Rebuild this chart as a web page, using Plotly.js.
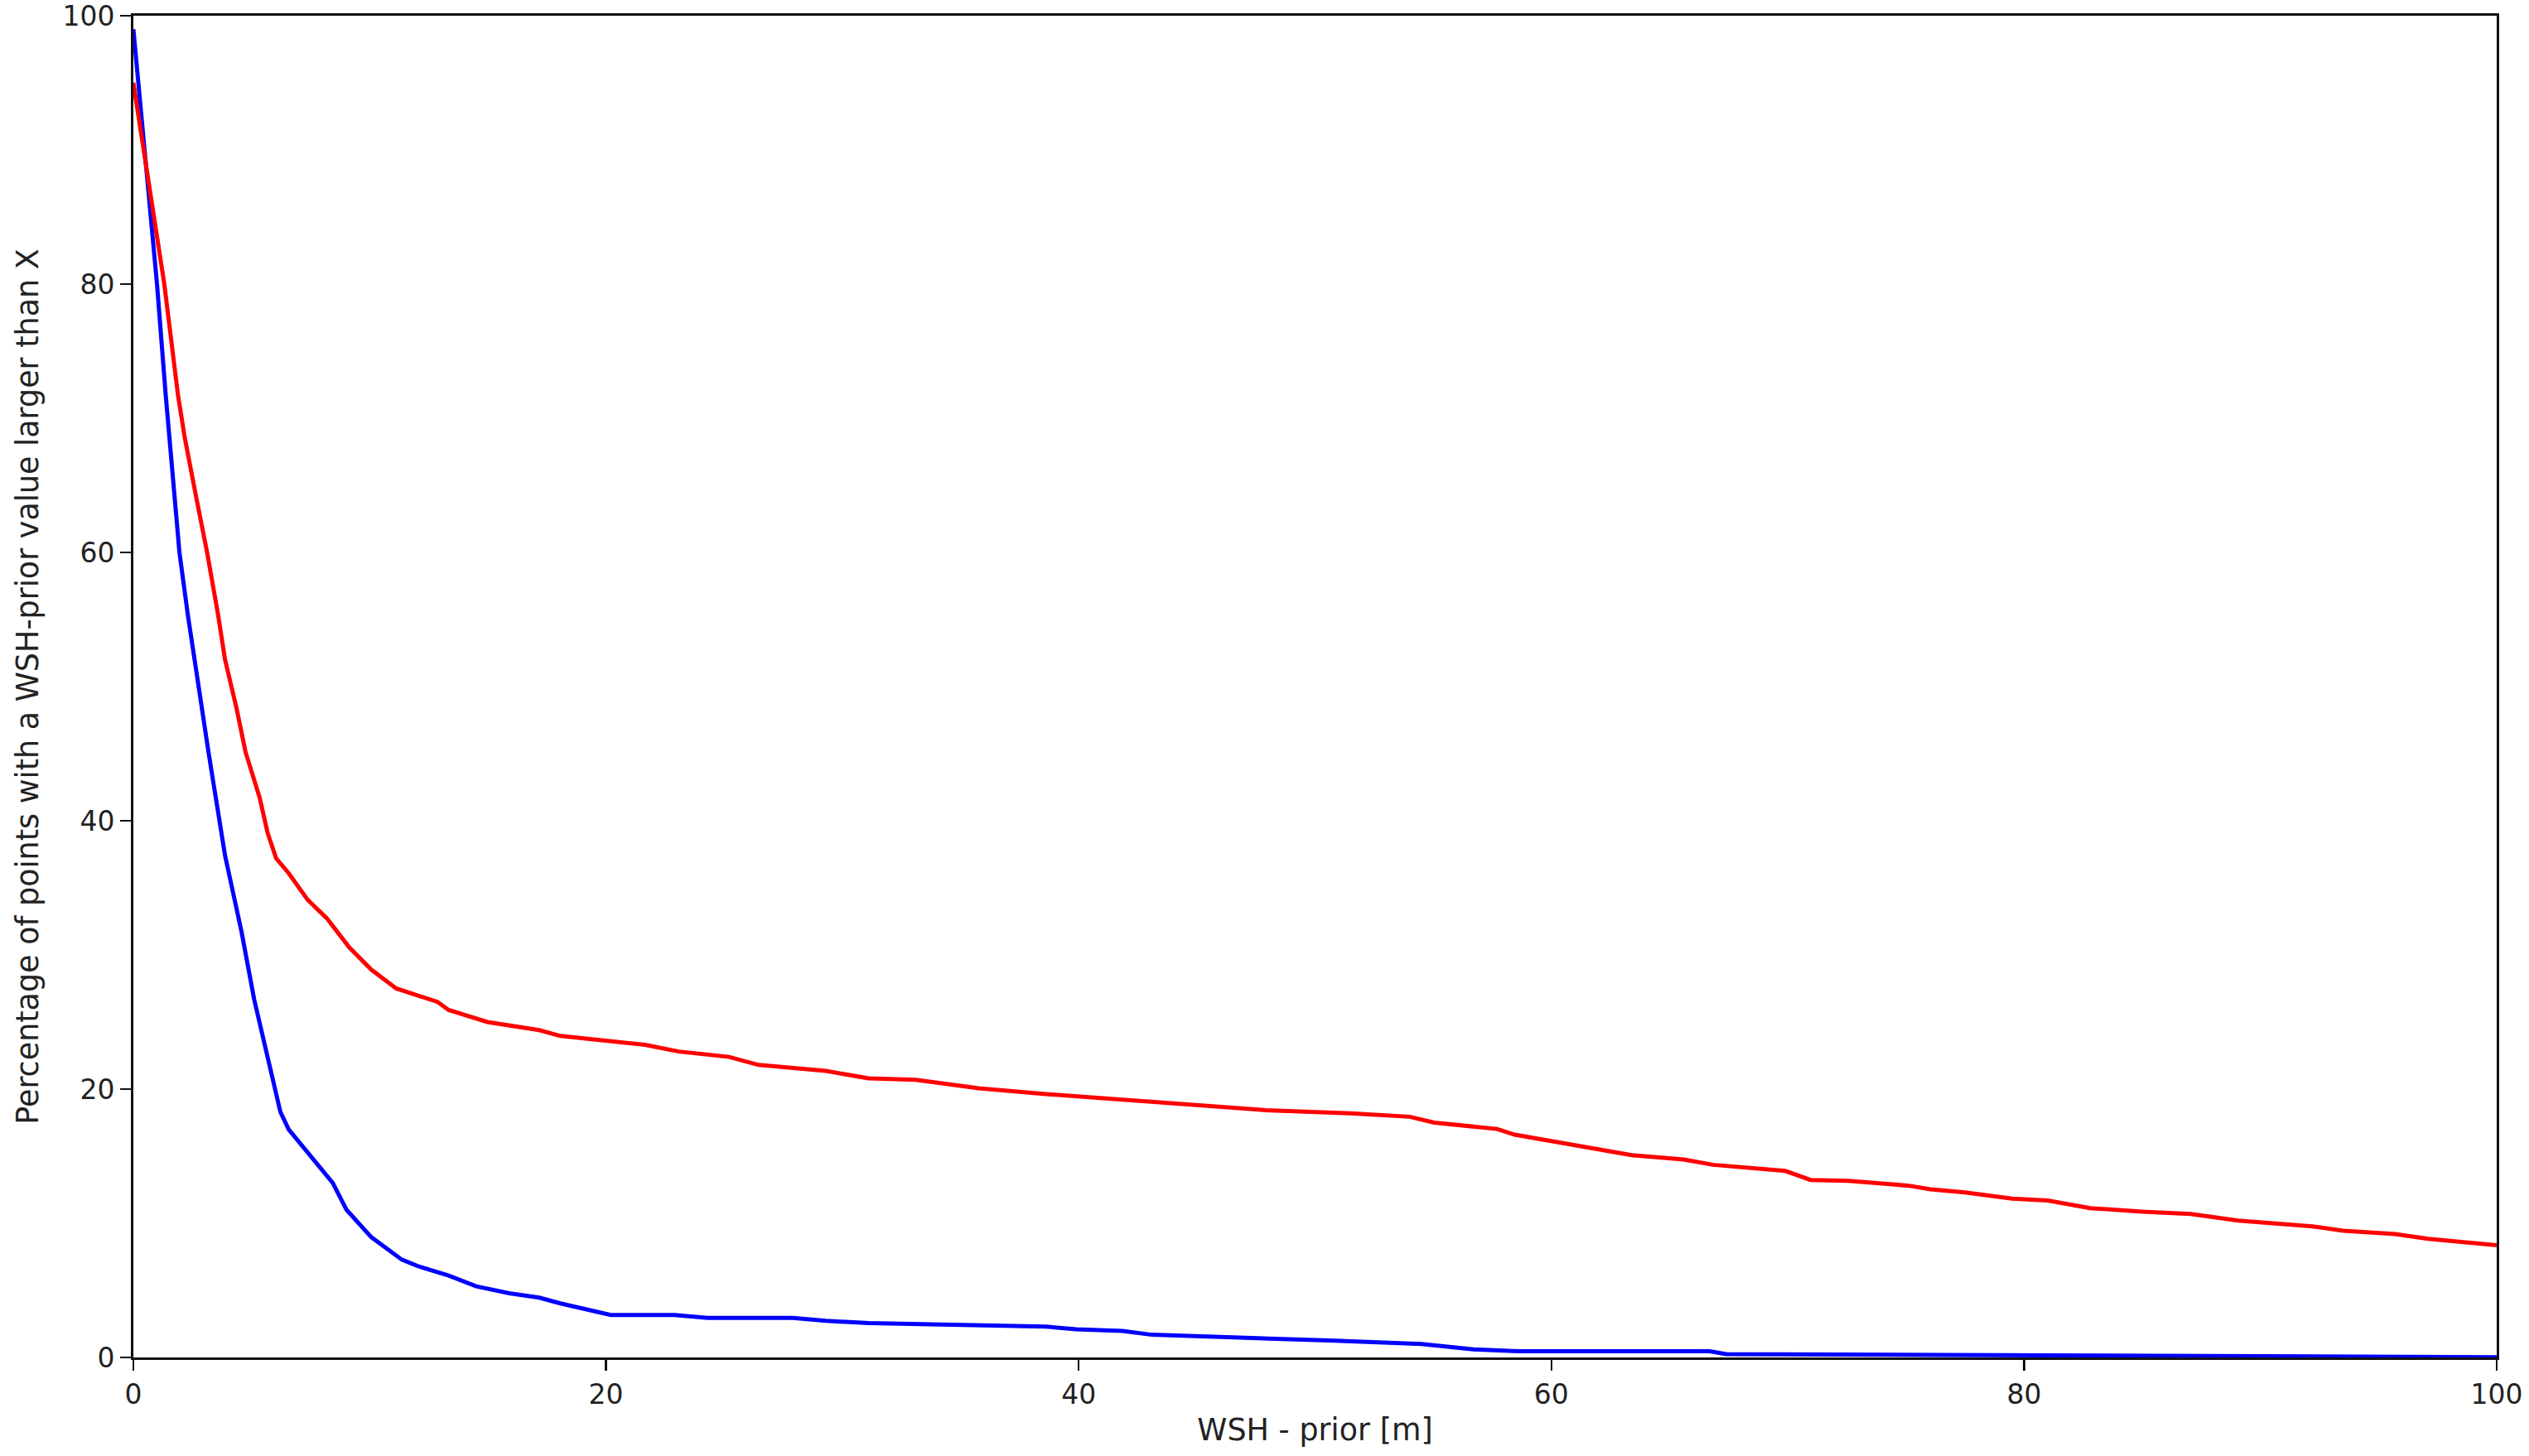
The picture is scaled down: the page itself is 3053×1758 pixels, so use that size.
<!DOCTYPE html>
<html>
<head>
<meta charset="utf-8">
<script src="https://cdn.plot.ly/plotly-3.0.1.min.js"></script>
<style>
  html, body { margin: 0; padding: 0; background: #fff; }
  #graph { width: 3053px; height: 1758px; }
</style>
</head>
<body>
<div id="graph"></div>
<script>
// curve: WSH-prior threshold [m] -> % of points above it
const redX = [0, 1.31, 1.89, 2.18, 2.65, 3.12, 3.58, 3.88, 4.35, 4.75, 5.34, 5.68, 6.04, 6.57, 7.38, 8.2, 9.14, 10.07, 11.12, 12.87, 13.34, 14.98, 17.17, 18.07, 21.65, 23.08, 25.2, 26.46, 29.3, 31.1, 33.1, 35.77, 38.6, 42.9, 44.86, 47.9, 51.5, 54.0, 55.05, 57.7, 58.45, 61.3, 63.4, 65.6, 66.84, 69.9, 70.97, 72.56, 75.13, 76.05, 77.5, 79.5, 81.0, 82.8, 85.0, 87.05, 89.06, 92.2, 93.5, 95.7, 97.1, 100];
const redY = [95, 80, 71.7, 68.5, 64.2, 60, 55.4, 52, 48.5, 45.1, 41.75, 39.1, 37.2, 36.1, 34.1, 32.7, 30.55, 28.9, 27.5, 26.5, 25.9, 25.0, 24.4, 23.96, 23.3, 22.8, 22.4, 21.8, 21.36, 20.8, 20.7, 20.06, 19.63, 19.08, 18.8, 18.43, 18.2, 17.94, 17.5, 17.03, 16.6, 15.74, 15.08, 14.75, 14.36, 13.9, 13.23, 13.17, 12.8, 12.53, 12.3, 11.83, 11.7, 11.13, 10.86, 10.7, 10.2, 9.77, 9.44, 9.2, 8.84, 8.36];

const blueX = [0, 1.0, 1.37, 1.95, 2.3, 2.7, 3.18, 3.88, 4.58, 5.11, 5.75, 6.22, 6.57, 7.5, 8.44, 9.02, 10.07, 11.36, 12.06, 13.34, 14.51, 15.9, 17.17, 18.07, 20.2, 22.9, 24.3, 27.9, 29.3, 31.1, 38.6, 39.9, 41.85, 43.1, 47.0, 50.6, 54.5, 56.7, 58.6, 66.7, 67.4, 80, 90, 100];
const blueY = [99, 80, 71.7, 60, 55.4, 50.5, 45.1, 37.4, 31.7, 26.7, 21.7, 18.3, 17.0, 15.0, 13.0, 11.0, 8.96, 7.29, 6.79, 6.1, 5.3, 4.78, 4.46, 4.03, 3.17, 3.17, 2.95, 2.95, 2.73, 2.56, 2.3, 2.1, 1.98, 1.69, 1.5, 1.26, 1.0, 0.6, 0.46, 0.46, 0.25, 0.15, 0.05, 0.02];

const xTicks = [0, 20, 40, 60, 80, 100];
const yTicks = [0, 20, 40, 60, 80, 100];

const traces = [
    {
        x: blueX,
        y: blueY,
        mode: 'lines',
        type: 'scatter',
        line: { color: '#0000ff', width: 5 }
    },
    {
        x: redX,
        y: redY,
        mode: 'lines',
        type: 'scatter',
        line: { color: '#ff0000', width: 5 }
    }
];

const axisStyle = {
    showline: true,
    mirror: true,
    linecolor: '#111',
    linewidth: 3,
    ticks: 'outside',
    ticklen: 13,
    tickwidth: 2.5,
    tickcolor: '#111',
    showgrid: false,
    zeroline: false,
    ticklabeloverflow: 'allow',
    tickfont: { size: 33, color: '#222' }
};

const layout = {
    width: 3053,
    height: 1758,
    margin: { l: 161, r: 39, t: 19, b: 119 },
    paper_bgcolor: '#fff',
    plot_bgcolor: '#fff',
    showlegend: false,
    font: { family: 'DejaVu Sans, sans-serif', color: '#222' },
    xaxis: Object.assign({}, axisStyle, {
        range: [0, 100],
        tickvals: xTicks,
        title: { text: 'WSH - prior [m]', font: { size: 36.5 }, standoff: 12 }
    }),
    yaxis: Object.assign({}, axisStyle, {
        range: [0, 100],
        tickvals: yTicks,
        title: { text: 'Percentage of points with a WSH-prior value larger than X', font: { size: 36.5 }, standoff: 18 }
    })
};

Plotly.newPlot('graph', traces, layout, { staticPlot: true });
</script>
</body>
</html>
